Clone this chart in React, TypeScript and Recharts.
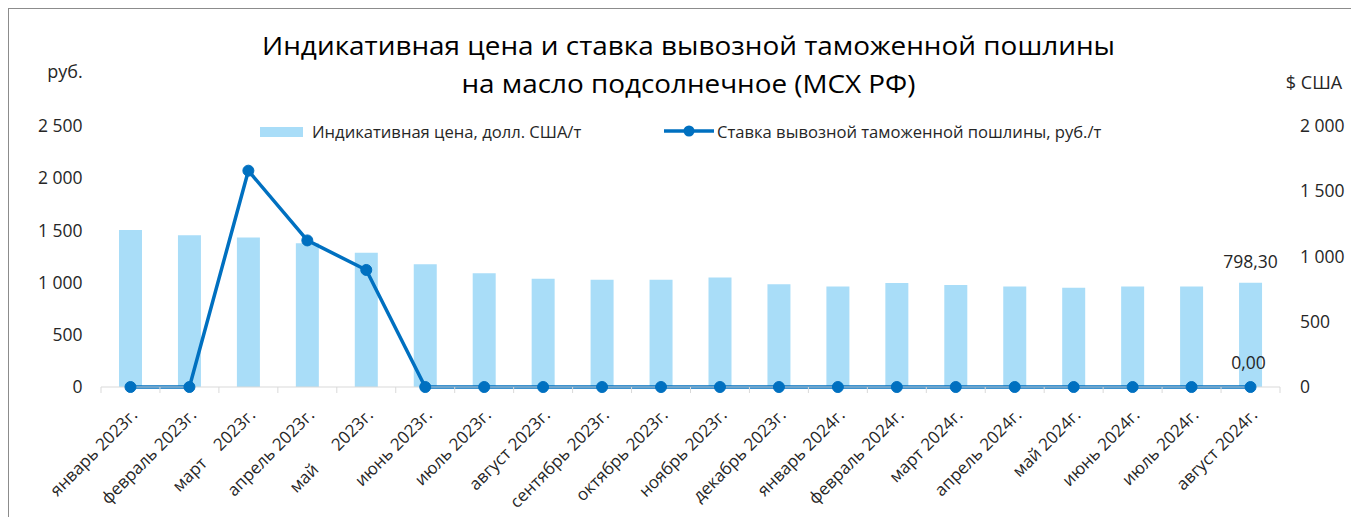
import React from 'react';
import { ComposedChart, Bar, Line, XAxis, YAxis, Legend, LabelList } from 'recharts';

const categories: string[] = [
  'январь 2023г.', 'февраль 2023г.', 'март    2023г.', 'апрель 2023г.', 'май      2023г.',
  'июнь 2023г.', 'июль 2023г.', 'август 2023г.', 'сентябрь 2023г.', 'октябрь 2023г.',
  'ноябрь 2023г.', 'декабрь 2023г.', 'январь 2024г.', 'февраль 2024г.', 'март 2024г.',
  'апрель 2024г.', 'май 2024г.', 'июнь 2024г.', 'июль 2024г.', 'август 2024г.',
];
const indicativePrice: number[] = [
  1204, 1163, 1145, 1102, 1028, 941, 872, 829, 821, 821,
  839, 788, 770, 796, 781, 770, 760, 770, 770, 798.3,
];
const dutyRate: number[] = [
  0, 0, 2072, 1404, 1121, 0, 0, 0, 0, 0,
  0, 0, 0, 0, 0, 0, 0, 0, 0, 0,
];
const leftTicks: number[] = [0, 500, 1000, 1500, 2000, 2500];
const rightTicks: number[] = [0, 500, 1000, 1500, 2000];

const TITLE_1 = 'Индикативная цена и ставка вывозной таможенной пошлины';
const TITLE_2 = 'на масло подсолнечное (МСХ РФ)';
const PRICE_NAME = 'Индикативная цена, долл. США/т';
const DUTY_NAME = 'Ставка вывозной таможенной пошлины, руб./т';
const LEFT_UNIT = 'руб.';
const RIGHT_UNIT = '$ США';

const data = categories.map((c, i) => ({ cat: c, price: indicativePrice[i], duty: dutyRate[i] }));

const W = 1351;
const H = 509;
const LEFT_W = 93;
const RIGHT_W = 79;
const PLOT_W = W - LEFT_W - RIGHT_W;
const FONT = "'Open Sans', sans-serif";
const TXT = '#262626';
const BAR_COLOR = '#a9ddf8';
const LINE_COLOR = '#0070c0';
const AXIS_COLOR = '#d9d9d9';

const fmtThousands = (v: number) => String(v).replace(/\B(?=(\d{3})+(?!\d))/g, '\u00a0');
const fmtDecimal = (v: number) => v.toFixed(2).replace('.', ',');

const XTick = (props: any) => {
  const { x, y, payload, index } = props;
  const band = PLOT_W / categories.length;
  const ax = x + 8;
  const ay = y + 29;
  return (
    <g>
      <line x1={x - band / 2} x2={x - band / 2} y1={y} y2={y + 6} stroke={AXIS_COLOR} strokeWidth={1} />
      {index === categories.length - 1 && (
        <line x1={x + band / 2} x2={x + band / 2} y1={y} y2={y + 6} stroke={AXIS_COLOR} strokeWidth={1} />
      )}
      <text
        x={ax}
        y={ay}
        transform={`rotate(-45, ${ax}, ${ay})`}
        textAnchor="end"
        fontSize={17}
        fill={TXT}
        style={{ whiteSpace: 'pre' }}
        fontFamily={FONT}
      >
        {payload.value}
      </text>
    </g>
  );
};

const BarLastLabel = (props: any) => {
  const { x, y, width, value, index } = props;
  if (index !== categories.length - 1) return null;
  return (
    <text x={x + width / 2} y={y - 15} textAnchor="middle" fontSize={17.5} fill={TXT} fontFamily={FONT}>
      {fmtDecimal(value)}
    </text>
  );
};

const LineLastLabel = (props: any) => {
  const { x, y, value, index } = props;
  if (index !== categories.length - 1) return null;
  return (
    <text x={x - 2} y={y - 18} textAnchor="middle" fontSize={17.5} fill={TXT} fontFamily={FONT}>
      {fmtDecimal(value)}
    </text>
  );
};

const LegendContent = () => (
  <svg width={W} height={150} style={{ position: 'absolute', left: 0, top: 0, overflow: 'visible' }}>
    <rect x={252} y={119} width={43} height={10} fill={BAR_COLOR} />
    <text x={304} y={130} fontSize={16.6} fill={TXT} fontFamily={FONT}>{PRICE_NAME}</text>
    <line x1={656} x2={706} y1={123} y2={123} stroke={LINE_COLOR} strokeWidth={3.5} />
    <circle cx={681} cy={123} r={5.5} fill={LINE_COLOR} />
    <text x={709} y={130} fontSize={16.6} fill={TXT} fontFamily={FONT}>{DUTY_NAME}</text>
  </svg>
);

export default function App() {
  return (
    <div style={{ position: 'relative', width: W, height: H, fontFamily: FONT, background: '#fff' }}>
      <div style={{ position: 'absolute', left: 0, top: -1, width: W, height: 2, background: '#8c8c8c' }} />
      <div style={{ position: 'absolute', left: -1, top: 0, width: 2, height: H, background: '#8c8c8c' }} />
      <ComposedChart width={W} height={H} data={data} margin={{ top: 118, right: 0, bottom: 0, left: 0 }}>
        <XAxis
          dataKey="cat"
          interval={0}
          height={130}
          tickSize={0}
          tickMargin={0}
          axisLine={{ stroke: AXIS_COLOR, strokeWidth: 1 }}
          tickLine={false}
          tick={<XTick />}
        />
        <YAxis
          yAxisId="left"
          orientation="left"
          width={LEFT_W}
          domain={[0, 2500]}
          ticks={leftTicks}
          interval={0}
          axisLine={false}
          tickLine={false}
          tickSize={0}
          tickMargin={18.5}
          tickFormatter={fmtThousands}
          tick={{ fontSize: 17.5, fill: TXT, fontFamily: FONT }}
        />
        <YAxis
          yAxisId="right"
          orientation="right"
          width={RIGHT_W}
          domain={[0, 2000]}
          ticks={rightTicks}
          interval={0}
          axisLine={false}
          tickLine={false}
          tickSize={0}
          tickMargin={20}
          tickFormatter={fmtThousands}
          tick={{ fontSize: 17.5, fill: TXT, fontFamily: FONT }}
        />
        <Legend
          layout="horizontal"
          verticalAlign="middle"
          align="center"
          wrapperStyle={{ top: 0, left: 0, width: W, height: 0, pointerEvents: 'none' }}
          content={<LegendContent />}
        />
        <Bar yAxisId="right" dataKey="price" name={PRICE_NAME} fill={BAR_COLOR} barSize={23} isAnimationActive={false}>
          <LabelList dataKey="price" content={<BarLastLabel />} />
        </Bar>
        <Line
          yAxisId="left"
          type="linear"
          dataKey="duty"
          name={DUTY_NAME}
          stroke={LINE_COLOR}
          strokeWidth={3.5}
          dot={{ r: 5.5, fill: LINE_COLOR, stroke: LINE_COLOR, strokeWidth: 1 }}
          activeDot={false}
          isAnimationActive={false}
        >
          <LabelList dataKey="duty" content={<LineLastLabel />} />
        </Line>
      </ComposedChart>
      <svg width={W} height={120} style={{ position: 'absolute', left: 0, top: 0, pointerEvents: 'none' }}>
        <text x={680.5} y={47} textAnchor="middle" fontSize={25.5} textLength={853} lengthAdjust="spacingAndGlyphs" fill="#000" fontFamily={FONT}>{TITLE_1}</text>
        <text x={680.5} y={85} textAnchor="middle" fontSize={25.5} textLength={454} lengthAdjust="spacingAndGlyphs" fill="#000" fontFamily={FONT}>{TITLE_2}</text>
        <text x={57} y={70} textAnchor="middle" fontSize={18} fill={TXT} fontFamily={FONT}>{LEFT_UNIT}</text>
        <text x={1306} y={81} textAnchor="middle" fontSize={18} fill={TXT} fontFamily={FONT}>{RIGHT_UNIT}</text>
      </svg>
    </div>
  );
}
